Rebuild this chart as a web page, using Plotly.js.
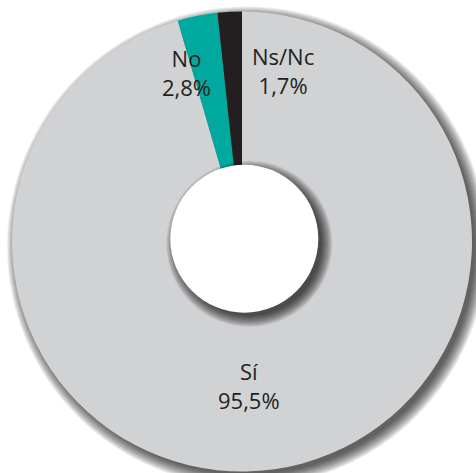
<!DOCTYPE html>
<html>
<head>
<meta charset="utf-8">
<script src="https://cdn.plot.ly/plotly-3.0.1.min.js"></script>
<style>
html,body{margin:0;padding:0;background:#fff;}
#chart{width:476px;height:473px;}
</style>
</head>
<body>
<div id="chart"></div>
<script>
const labels = ["Sí", "No", "Ns/Nc"];
const values = [95.5, 2.8, 1.7];
const colors = ["#d1d2d4", "#00a99d", "#231f20"];
const labelPos = [[0.515, 0.187], [0.380, 0.866], [0.589, 0.870]];

function fmt(v){ return v.toFixed(1).replace('.', ',') + '%'; }

const W = 476, H = 473;
const M = {l: 12, r: 4, t: 11, b: 1};
const PW = W - M.l - M.r, PH = H - M.t - M.b;

const trace = {
  type: 'pie',
  labels: labels,
  values: values,
  sort: false,
  direction: 'clockwise',
  rotation: 0,
  hole: 0.3,
  textinfo: 'none',
  hoverinfo: 'none',
  marker: {colors: colors, line: {width: 0}},
  showlegend: false
};

const annotations = labels.map((l, i) => ({
  xref: 'paper', yref: 'paper',
  x: labelPos[i][0], y: labelPos[i][1],
  xanchor: 'center', yanchor: 'middle',
  text: l + '<br>' + fmt(values[i]),
  showarrow: false,
  font: {family: '"Open Sans", sans-serif', size: 22, color: '#231f20'}
}));

// soft shadow faked with stacked translucent circles
function shadowCircles(cx, cy, r, dx, dy, rMin, rMax, n, alpha, layer) {
  const out = [];
  for (let k = 0; k < n; k++) {
    const rr = r + rMin + (rMax - rMin) * k / (n - 1);
    out.push({
      type: 'circle', layer: layer,
      xref: 'paper', yref: 'paper',
      xsizemode: 'pixel', ysizemode: 'pixel',
      xanchor: cx + dx / PW, yanchor: cy - dy / PH,
      x0: -rr, x1: rr, y0: -rr, y1: rr,
      fillcolor: 'rgba(0,0,0,' + alpha + ')', line: {width: 0}
    });
  }
  return out;
}

const R = 230, HOLE_R = 74;
const holeX = 0.505, holeY = 0.506;

const shapes = []
  .concat(shadowCircles(0.5, 0.5, R, 5, 5, -2, 10, 12, 0.075, 'below'))
  .concat(shadowCircles(holeX, holeY, HOLE_R, 5, 5, -2, 9, 12, 0.08, 'above'))
  .concat([{
    type: 'circle', layer: 'above',
    xref: 'paper', yref: 'paper',
    xsizemode: 'pixel', ysizemode: 'pixel',
    xanchor: holeX, yanchor: holeY,
    x0: -HOLE_R, x1: HOLE_R, y0: -HOLE_R, y1: HOLE_R,
    fillcolor: '#ffffff', line: {width: 0}
  }]);

const layout = {
  width: W, height: H,
  margin: M,
  paper_bgcolor: '#ffffff',
  plot_bgcolor: '#ffffff',
  annotations: annotations,
  shapes: shapes
};

Plotly.newPlot('chart', [trace], layout, {displayModeBar: false, staticPlot: true});
</script>
</body>
</html>
